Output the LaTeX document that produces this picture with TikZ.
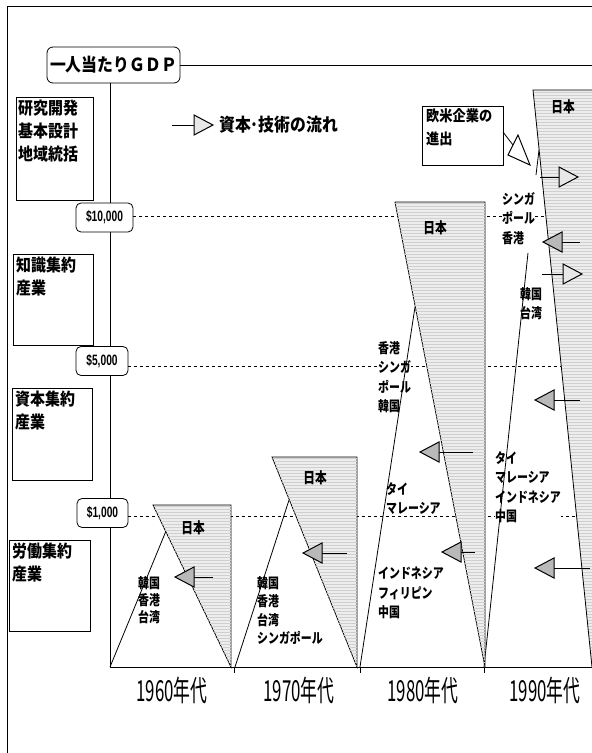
\documentclass[tikz,border=0pt]{standalone}
\usepackage{fontspec}
\usetikzlibrary{patterns}
\newfontfamily\jpA[FakeStretch=0.88]{Noto Sans CJK JP}
\newfontfamily\jpB[FakeStretch=0.78]{Noto Sans CJK JP}
\newfontfamily\jpY[FakeStretch=0.58]{Noto Sans CJK JP}
\newfontfamily\numf[FakeStretch=0.68]{Liberation Sans}
% left-pointing flow arrow: [style] tip-x, y, tail-x
\newcommand\myLflow[4][darkhead]{%
  \draw[solidline] (#4,#3) -- (#2+19,#3);
  \draw[#1] (#2,#3) -- (#2+19,#3-10) -- (#2+19,#3+10) -- cycle;}
% right-pointing flow arrow: [style] tail-x, y, tip-x
\newcommand\myRflow[4][lighthead]{%
  \draw[solidline] (#2,#3) -- (#4-19,#3);
  \draw[#1] (#4,#3) -- (#4-19,#3-10) -- (#4-19,#3+10) -- cycle;}
\tikzset{
  frameline/.style={line width=0.9pt},
  solidline/.style={line width=0.8pt},
  catbox/.style={draw, line width=0.8pt},
  cattext/.style={anchor=north west, inner sep=0pt, align=left, font=\jpA\bfseries\fontsize{17}{23}\selectfont},
  titlebox/.style={draw, line width=0.8pt, rounded corners=6pt, fill=white, minimum width=133pt, minimum height=36pt, inner sep=0pt, font=\jpA\bfseries\fontsize{18}{18}\selectfont},
  vallabel/.style={draw, line width=0.8pt, rounded corners=5pt, fill=white, minimum height=29pt, inner sep=1pt, font=\numf\bfseries\fontsize{15}{15}\selectfont},
  gridline/.style={dashed, dash pattern=on 3pt off 3pt, line width=0.7pt},
  jpshade/.style={fill=gray!14, postaction={pattern=horizontal lines, pattern color=gray!38}},
  ctext/.style={anchor=north west, inner sep=0pt, align=left, fill=white, font=\jpB\bfseries\fontsize{14}{19.5}\selectfont},
  nihon/.style={inner sep=0pt, font=\jpB\bfseries\fontsize{15}{15}\selectfont},
  yeartext/.style={inner sep=0pt, font=\jpY\fontsize{29}{29}\selectfont},
  darkhead/.style={draw, fill=gray!55, line width=1pt},
  lighthead/.style={draw, fill=gray!18, line width=1pt},
  whitehead/.style={draw, fill=white, line width=1pt},
}
\begin{document}
\begin{tikzpicture}[x=1pt,y=-1pt]
\useasboundingbox (0,0) rectangle (592,753);
\fill[white] (0,0) rectangle (592,753);

% outer frame
\draw[frameline] (592,6) -- (7,6) -- (7,753);

% category boxes
\draw[catbox] (16,97) rectangle (93,200);
\node[cattext] (cat1) at (18,100) {研究開発\\基本設計\\地域統括};
\draw[catbox] (13,254) rectangle (93,345);
\node[cattext] (cat2) at (16,257) {知識集約\\産業};
\draw[catbox] (12,388) rectangle (92,480);
\node[cattext] (cat3) at (15,391) {資本集約\\産業};
\draw[catbox] (9,540) rectangle (90,631);
\node[cattext] (cat4) at (12,543) {労働集約\\産業};

% axes
\coordinate (origin) at (110,667);
\coordinate (xend) at (592,667);
\node[titlebox] (title) at (113.5,65) {一人当たりＧＤＰ};
\draw[solidline] (title.east) -- (title.east -| xend);
\draw[solidline] (title.south -| origin) -- (origin) -- (xend);
\draw[solidline] (234,667) -- (234,673);
\draw[solidline] (360,667) -- (360,673);
\draw[solidline] (484,667) -- (484,673);

% value labels and dashed levels
\node[vallabel, minimum width=57pt] (v10) at (104.5,217.5) {\$10,000};
\node[vallabel, minimum width=52pt] (v5) at (102,361) {\$5,000};
\node[vallabel, minimum width=51pt] (v1) at (102.5,513) {\$1,000};
\coordinate (g10) at (592,216);
\coordinate (g5) at (592,366);
\coordinate (g1) at (592,516);
\draw[gridline] (v10.east |- g10) -- (g10);
\draw[gridline] (v5.east |- g5) -- (g5);
\draw[gridline] (v1.east |- g1) -- (g1);

% country labels
\node[ctext, font=\jpB\bfseries\fontsize{14}{17}\selectfont] (c60) at (138,576) {韓国\\香港\\台湾};
\node[ctext, font=\jpB\bfseries\fontsize{14}{18.5}\selectfont] (c70) at (257,576) {韓国\\香港\\台湾\\シンガポール};
\node[ctext] (c80a) at (378,341) {香港\\シンガ\\ポール\\韓国};
\node[ctext] (c80b) at (386,482) {タイ\\マレーシア};
\node[ctext] (c80c) at (378,567) {インドネシア\\フィリピン\\中国};
\node[ctext] (c90a) at (502,192) {シンガ\\ポール\\香港};
\node[ctext] (c90b) at (520,287) {韓国\\台湾};
\node[ctext] (c90c) at (495,451) {タイ\\マレーシア\\インドネシア\\中国};

% growth lines of the follower economies
\coordinate (b70) at (235,667);
\coordinate (b80) at (360,667);
\coordinate (b90) at (484,667);
\coordinate (m60) at (166,531);
\coordinate (m70) at (289,500);
\coordinate (m80) at (415,307);
\coordinate (m90a) at (528,253);
\coordinate (m90b) at (536,175);
\coordinate (m90c) at (539,150);
\draw[solidline] (origin) -- (m60);
\draw[solidline] (b70) -- (m70);
\draw[solidline] (b80) -- (m80);
\draw[solidline] (b90) -- (m90a);
\draw[solidline] (m90b) -- (m90c);

% Japan wedges
\draw[jpshade, solidline] (153,505) -- (231,505) -- (231,667) -- cycle;
\draw[jpshade, solidline] (272,457) -- (357,457) -- (357,667) -- cycle;
\draw[jpshade, solidline] (395,202) -- (485,202) -- (485,667) -- cycle;
\fill[jpshade] (533,90) -- (592,90) -- (592,667) -- cycle;
\draw[solidline] (592,90) -- (533,90) -- (592,667);

\node[nihon] (j60) at (193,528) {日本};
\node[nihon] (j70) at (315,478) {日本};
\node[nihon] (j80) at (435,228) {日本};
\node[nihon] (j90) at (563,107) {日本};

% capital and technology flows
\myLflow{175}{577}{213}
\myLflow{303}{553}{347}
\myLflow{420}{452}{473}
\myLflow{442}{552}{475}
\myRflow{540}{177}{578}
\myLflow{543}{242}{580}
\myRflow{542}{274}{582}
\myLflow{535}{400}{580}
\myLflow{535}{568}{590}

% legend
\myRflow{172}{125}{213}
\node[anchor=west, inner sep=0pt, font=\jpA\bfseries\fontsize{18}{18}\selectfont] (legend) at (219,125) {資本･技術の流れ};

% entry of Western firms
\node[draw, line width=0.8pt, anchor=north west, minimum width=81pt, minimum height=59pt, inner sep=0pt] (ob) at (422,106) {};
\node[anchor=north west, inner sep=0pt, align=left, font=\jpA\bfseries\fontsize{15}{23}\selectfont] (obtext) at (426,108) {欧米企業の\\進出};
\coordinate (obout) at (503,132);
\coordinate (obbase) at (513,145);
\draw[solidline] (obout) -- (obbase);
\draw[whitehead] (530,165) -- (508,155) -- (518,135) -- cycle;

% decades
\node[yeartext] (y60) at (172,690) {1960年代};
\node[yeartext] (y70) at (299,690) {1970年代};
\node[yeartext] (y80) at (423,690) {1980年代};
\node[yeartext] (y90) at (545,690) {1990年代};
\end{tikzpicture}
\end{document}
